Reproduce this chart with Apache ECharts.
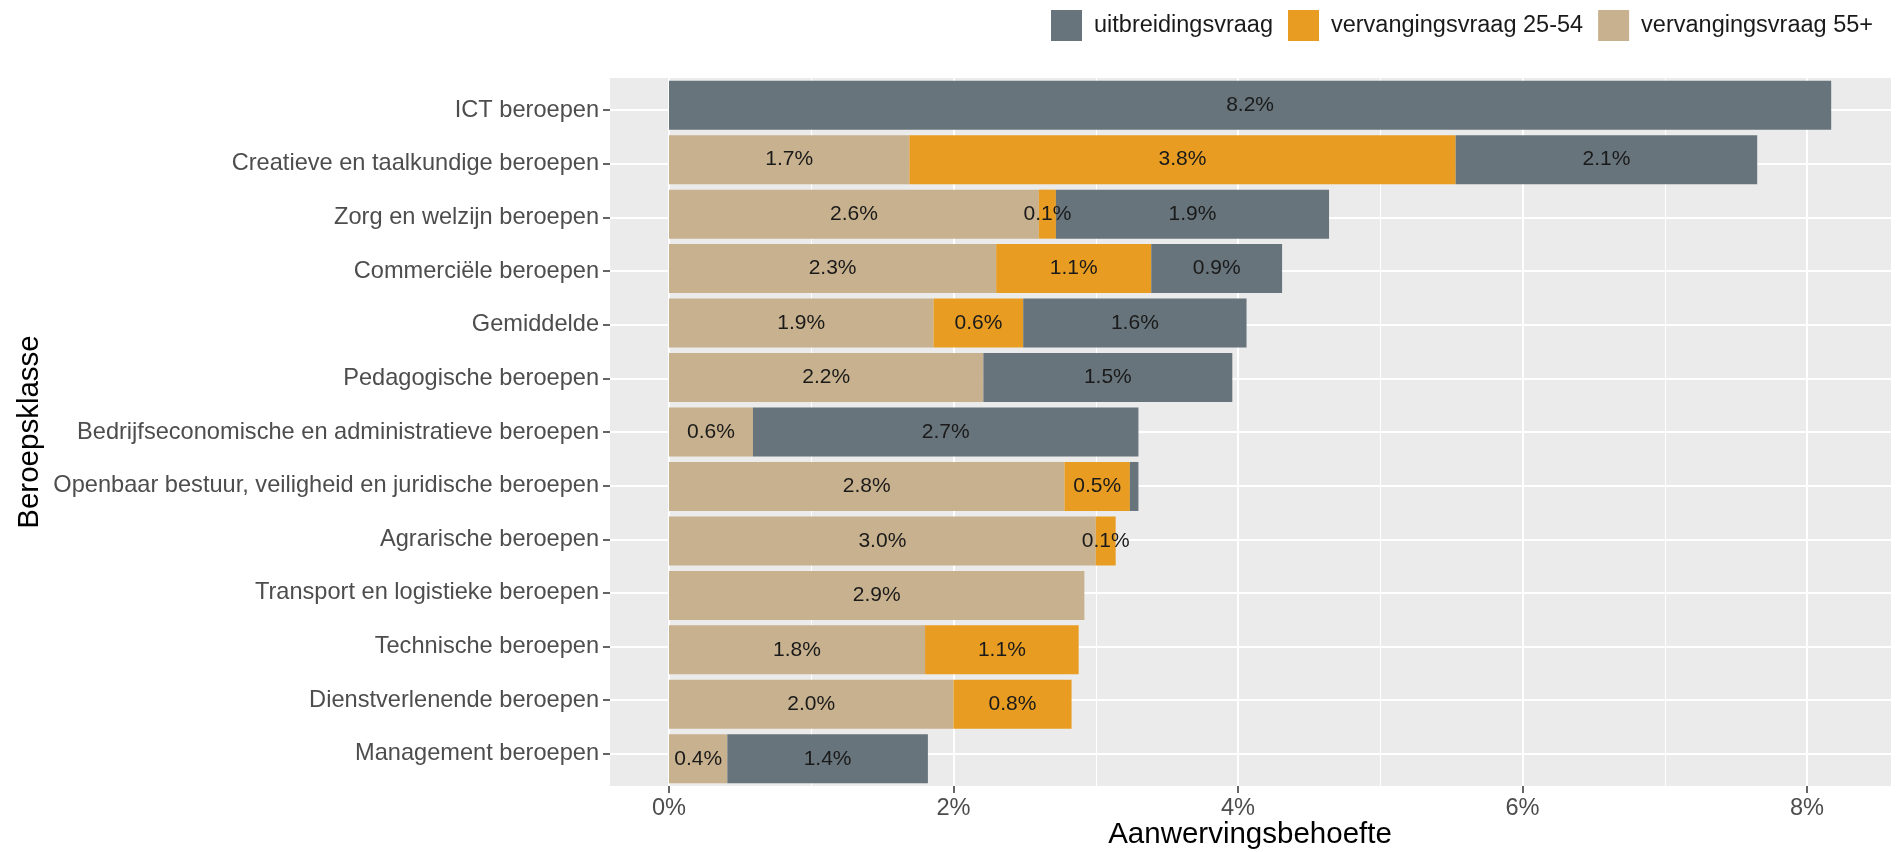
<!DOCTYPE html>
<html>
<head>
<meta charset="utf-8">
<script src="https://cdn.jsdelivr.net/npm/echarts@6/dist/echarts.min.js"></script>
<style>
html,body{margin:0;padding:0;background:#fff;}
#chart{width:1896px;height:852px;}
</style>
</head>
<body>
<div id="chart"></div>
<script>
const categories = [
  'ICT beroepen',
  'Creatieve en taalkundige beroepen',
  'Zorg en welzijn beroepen',
  'Commerciële beroepen',
  'Gemiddelde',
  'Pedagogische beroepen',
  'Bedrijfseconomische en administratieve beroepen',
  'Openbaar bestuur, veiligheid en juridische beroepen',
  'Agrarische beroepen',
  'Transport en logistieke beroepen',
  'Technische beroepen',
  'Dienstverlenende beroepen',
  'Management beroepen'
];
const seriesNames = ['vervangingsvraag 55+', 'vervangingsvraag 25-54', 'uitbreidingsvraag'];
const legendOrder = ['uitbreidingsvraag', 'vervangingsvraag 25-54', 'vervangingsvraag 55+'];

const vervanging55 = [0, 1.69, 2.60, 2.30, 1.86, 2.21, 0.59, 2.78, 3.00, 2.92, 1.80, 2.00, 0.41];
const vervanging2554 = [0, 3.84, 0.12, 1.09, 0.63, 0, 0, 0.46, 0.14, 0, 1.08, 0.83, 0];
const uitbreiding = [8.17, 2.12, 1.92, 0.92, 1.57, 1.75, 2.71, 0.06, 0, 0, 0, 0, 1.41];

const labels55 = ['', '1.7%', '2.6%', '2.3%', '1.9%', '2.2%', '0.6%', '2.8%', '3.0%', '2.9%', '1.8%', '2.0%', '0.4%'];
const labels2554 = ['', '3.8%', '0.1%', '1.1%', '0.6%', '', '', '0.5%', '0.1%', '', '1.1%', '0.8%', ''];
const labelsUitbr = ['8.2%', '2.1%', '1.9%', '0.9%', '1.6%', '1.5%', '2.7%', '', '', '', '', '', '1.4%'];

const xTicks = [0, 2, 4, 6, 8];

const colors = {
  'uitbreidingsvraag': '#67747b',
  'vervangingsvraag 25-54': '#e89d22',
  'vervangingsvraag 55+': '#c8b18e'
};
const FONT = 'Liberation Sans, Arial, sans-serif';

const chart = echarts.init(document.getElementById('chart'));

function makeSeries(name, values, labels) {
  return {
    name: name,
    type: 'bar',
    stack: 'total',
    xAxisIndex: 0,
    yAxisIndex: 0,
    clip: false,
    barCategoryGap: '10%',
    itemStyle: { color: colors[name] },
    label: {
      show: true,
      position: 'inside',
      color: '#1a1a1a',
      fontSize: 21,
      fontFamily: FONT,
      formatter: p => labels[p.dataIndex]
    },
    data: values
  };
}

const option = {
  animation: false,
  textStyle: { fontFamily: FONT },
  legend: {
    data: legendOrder,
    right: 23,
    top: 10,
    padding: 0,
    itemWidth: 31,
    itemHeight: 31,
    itemGap: 15,
    icon: 'rect',
    textStyle: { fontSize: 23.5, color: '#1a1a1a', fontFamily: FONT, padding: [0, 0, 0, 7] }
  },
  grid: [
    { left: 669, right: 89, top: 78, bottom: 66, containLabel: false },
    { left: 610, right: 5, top: 78, bottom: 66, show: true, backgroundColor: '#ebebeb', borderWidth: 0, z: -1 },
    { left: 610, right: 5, top: 110.2, bottom: 98.2 }
  ],
  xAxis: [
    {
      gridIndex: 0, type: 'value', min: 0, max: 8, interval: 2,
      axisLine: { show: false },
      axisTick: { show: true, length: 7, lineStyle: { color: '#333', width: 1.5 } },
      axisLabel: { color: '#4d4d4d', fontSize: 23.6, margin: 10, fontFamily: FONT, formatter: v => v + '%' },
      splitLine: { show: true, lineStyle: { color: '#ffffff', width: 2 } },
      minorTick: { show: false, splitNumber: 2 },
      minorSplitLine: { show: true, lineStyle: { color: '#ffffff', width: 1 } }
    },
    { gridIndex: 1, type: 'value', min: 0, max: 1, show: false },
    { gridIndex: 2, type: 'value', min: 0, max: 1, show: false }
  ],
  yAxis: [
    {
      gridIndex: 0, type: 'category', inverse: true, data: categories,
      axisLine: { show: false }, axisTick: { show: false }, axisLabel: { show: false }, splitLine: { show: false }
    },
    { gridIndex: 1, type: 'category', inverse: true, data: categories, show: false },
    {
      gridIndex: 2, type: 'category', inverse: true, data: categories, boundaryGap: false,
      axisLine: { show: false },
      axisTick: { show: true, length: 7, lineStyle: { color: '#333', width: 1.5 } },
      axisLabel: { color: '#4d4d4d', fontSize: 23.6, margin: 11, fontFamily: FONT, interval: 0 },
      splitLine: { show: true, interval: 0, lineStyle: { color: '#ffffff', width: 2 } }
    }
  ],
  graphic: [
    {
      type: 'text', left: 'center', x: 1250, y: 835,
      style: { text: 'Aanwervingsbehoefte', fontSize: 29.5, fill: '#000', fontFamily: FONT, textAlign: 'center', textVerticalAlign: 'middle' },
      position: [1250, 835], left: null
    },
    {
      type: 'text',
      position: [30, 432],
      rotation: Math.PI / 2,
      style: { text: 'Beroepsklasse', fontSize: 29.5, fill: '#000', fontFamily: FONT, textAlign: 'center', textVerticalAlign: 'middle' }
    }
  ],
  series: [
    makeSeries('vervangingsvraag 55+', vervanging55, labels55),
    makeSeries('vervangingsvraag 25-54', vervanging2554, labels2554),
    makeSeries('uitbreidingsvraag', uitbreiding, labelsUitbr)
  ]
};
chart.setOption(option);
</script>
</body>
</html>
